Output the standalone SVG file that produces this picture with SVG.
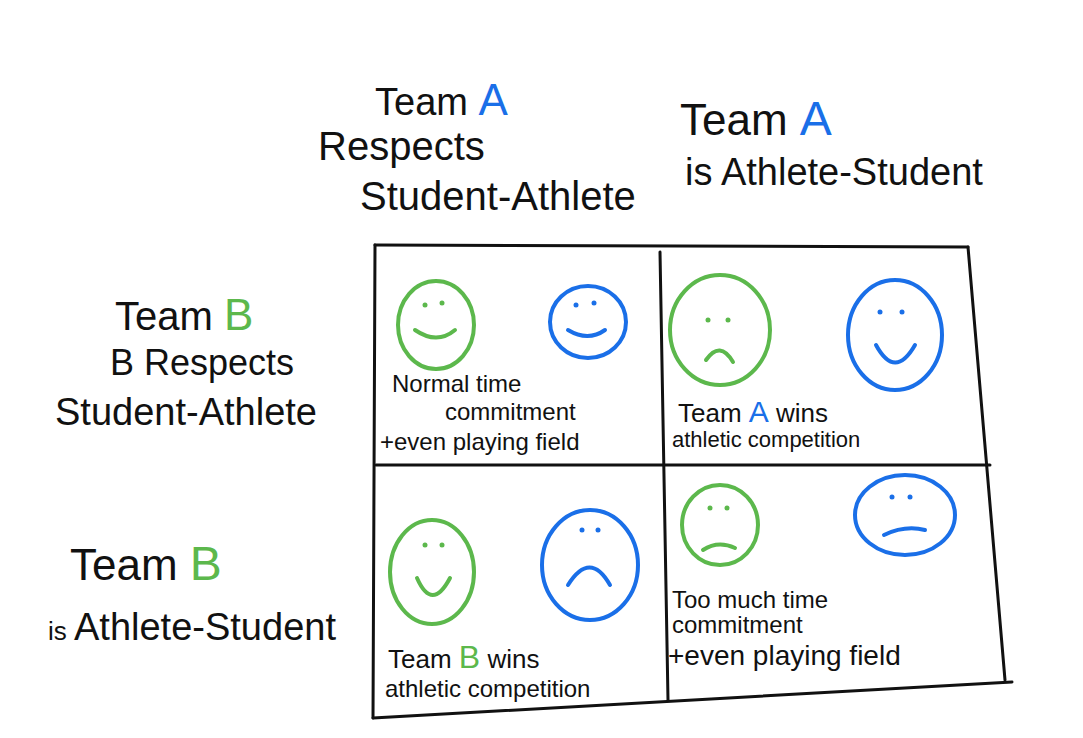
<svg xmlns="http://www.w3.org/2000/svg" width="1083" height="738" viewBox="0 0 1083 738">
<style>
.t{font-family:"Liberation Sans",sans-serif;fill:#111}
.g{fill:#5cb84c}.b{fill:#1a6fe8}
.line{stroke:#111;stroke-width:3;fill:none;stroke-linecap:round}
.gf{stroke:#5cb84c;stroke-width:4;fill:none;stroke-linecap:round}
.bf{stroke:#1a6fe8;stroke-width:4;fill:none;stroke-linecap:round}
.ge{fill:#5cb84c}.be{fill:#1a6fe8}
</style>
<rect width="1083" height="738" fill="#fff"/>
<g id="headers">
<text class="t" x="375" y="115" font-size="38">Team <tspan class="b" font-size="44">A</tspan></text>
<text class="t" x="318" y="160" font-size="40">Respects</text>
<text class="t" x="360" y="210" font-size="40">Student-Athlete</text>
<text class="t" x="680" y="135" font-size="44">Team <tspan class="b" font-size="48">A</tspan></text>
<text class="t" x="685" y="185" font-size="38">is Athlete-Student</text>
<text class="t" x="115" y="330" font-size="40">Team <tspan class="g" font-size="44">B</tspan></text>
<text class="t" x="110" y="375" font-size="36">B Respects</text>
<text class="t" x="55" y="425" font-size="38">Student-Athlete</text>
<text class="t" x="70" y="580" font-size="44">Team <tspan class="g" font-size="48">B</tspan></text>
<text class="t" x="48" y="640" font-size="38"><tspan font-size="26">is </tspan>Athlete-Student</text>
</g>
<g id="connectors">
<path class="line" d="M375 245 L968 247"/>
<path class="line" d="M375 245 L373 718"/>
<path class="line" d="M968 247 L1005 680"/>
<path class="line" d="M373 718 L1012 682"/>
<path class="line" d="M376 465 L990 465"/>
<path class="line" d="M660 252 L668 700"/>
</g>
<g id="cell1">
<ellipse class="gf" cx="436" cy="325" rx="38" ry="44"/>
<circle class="ge" cx="425" cy="305" r="2.5"/><circle class="ge" cx="442" cy="303" r="2.5"/>
<path class="gf" d="M415 330 Q437 345 455 330"/>
<ellipse class="bf" cx="588" cy="322" rx="38" ry="36"/>
<circle class="be" cx="576" cy="305" r="2.5"/><circle class="be" cx="594" cy="303" r="2.5"/>
<path class="bf" d="M568 330 Q588 342 605 330"/>
<text class="t" x="392" y="392" font-size="24">Normal time</text>
<text class="t" x="445" y="420" font-size="24">commitment</text>
<text class="t" x="380" y="450" font-size="24">+even playing field</text>
</g>
<g id="cell2">
<ellipse class="gf" cx="720" cy="330" rx="50" ry="55"/>
<circle class="ge" cx="708" cy="320" r="2.5"/><circle class="ge" cx="728" cy="320" r="2.5"/>
<path class="gf" d="M706 360 Q720 340 733 362"/>
<ellipse class="bf" cx="895" cy="335" rx="47" ry="55"/>
<circle class="be" cx="880" cy="312" r="2.5"/><circle class="be" cx="902" cy="312" r="2.5"/>
<path class="bf" d="M876 345 Q895 380 915 345"/>
<text class="t" x="678" y="422" font-size="26">Team <tspan class="b" font-size="30">A</tspan> wins</text>
<text class="t" x="672" y="447" font-size="22">athletic competition</text>
</g>
<g id="cell3">
<ellipse class="gf" cx="432" cy="572" rx="42" ry="52"/>
<circle class="ge" cx="425" cy="545" r="2.5"/><circle class="ge" cx="442" cy="545" r="2.5"/>
<path class="gf" d="M417 578 Q432 612 450 578"/>
<ellipse class="bf" cx="590" cy="565" rx="48" ry="55"/>
<circle class="be" cx="582" cy="530" r="2.5"/><circle class="be" cx="598" cy="530" r="2.5"/>
<path class="bf" d="M568 585 Q590 550 610 585"/>
<text class="t" x="388" y="668" font-size="26">Team <tspan class="g" font-size="32">B</tspan> wins</text>
<text class="t" x="385" y="697" font-size="24">athletic competition</text>
</g>
<g id="cell4">
<ellipse class="gf" cx="720" cy="525" rx="38" ry="40"/>
<circle class="ge" cx="710" cy="508" r="2.5"/><circle class="ge" cx="727" cy="508" r="2.5"/>
<path class="gf" d="M703 550 Q718 540 735 548"/>
<ellipse class="bf" cx="905" cy="515" rx="50" ry="40"/>
<circle class="be" cx="892" cy="497" r="2.5"/><circle class="be" cx="910" cy="497" r="2.5"/>
<path class="bf" d="M884 535 Q905 525 925 530"/>
<text class="t" x="672" y="608" font-size="24">Too much  time</text>
<text class="t" x="672" y="633" font-size="24">commitment</text>
<text class="t" x="668" y="665" font-size="28">+even playing field</text>
</g>
</svg>
